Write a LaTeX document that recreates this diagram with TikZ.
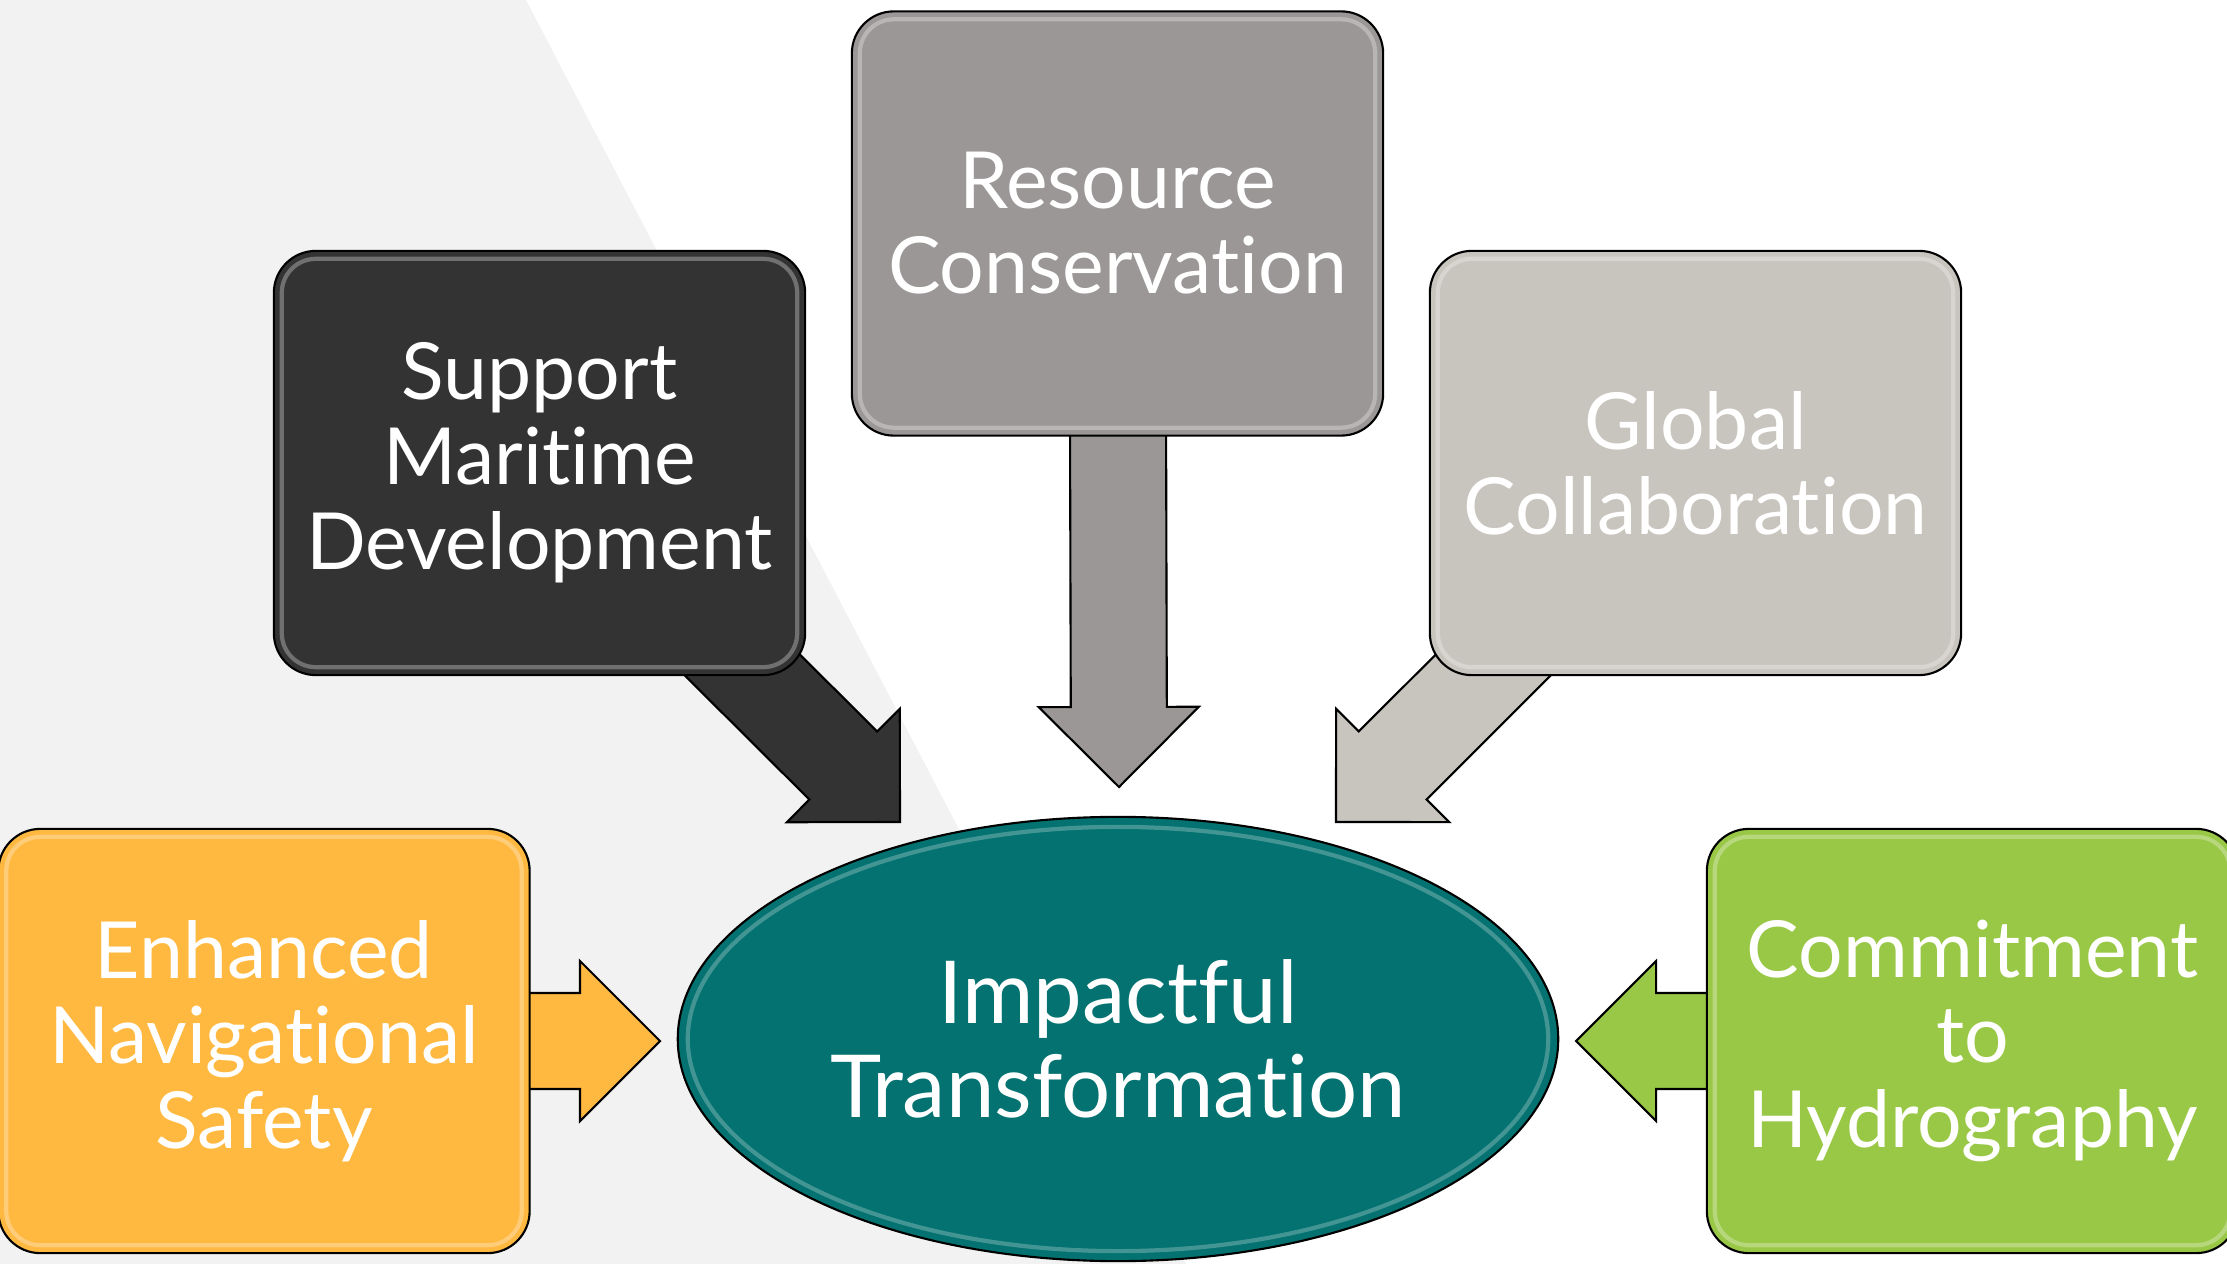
\documentclass[tikz,border=0pt]{standalone}
\usepackage{fontspec}
\setmainfont[Ligatures=NoCommon]{Lato}
\usetikzlibrary{calc,shapes.geometric}

\definecolor{bggray}{RGB}{242,242,242}
\definecolor{supcol}{RGB}{51,51,51}
\definecolor{rescol}{RGB}{154,151,150}
\definecolor{globcol}{RGB}{200,196,190}
\definecolor{enhcol}{RGB}{255,184,64}
\definecolor{comcol}{RGB}{153,199,70}
\definecolor{impcol}{RGB}{3,114,112}

\tikzset{
  box/.style={draw=black,line width=0.6pt,rounded corners=0.42cm,
    minimum width=5.31cm,minimum height=4.24cm,inner sep=0pt,
    text=white,align=center,font=\fontsize{22.4}{24.2}\selectfont},
  core/.style={draw=black,line width=0.6pt,ellipse,
    minimum width=8.8cm,minimum height=4.44cm,inner sep=0pt,
    text=white,align=center,font=\fontsize{24.7}{26.8}\selectfont},
  pfeilrand/.style={draw=black,line width=0.6pt,line join=miter},
  gloss/.style={draw=white,draw opacity=0.3,line width=1.2pt,rounded corners=0.34cm}
}

\begin{document}
\begin{tikzpicture}[x=0.01cm,y=-0.01cm]
\useasboundingbox (0,0) rectangle (2227,1264);
\fill[bggray] (0,0)--(526,0)--(1186,1264)--(0,1264)--cycle;

% block arrow: #1 colour, #2 start, #3 tip
\def\pfeil#1#2#3{
  \coordinate (H) at ($(#3)!0.8cm!(#2)$);
  \filldraw[pfeilrand,fill=#1] (#3)
    -- ($(H)!0.8cm!90:(#3)$) -- ($(H)!0.48cm!90:(#3)$)
    -- ($(#2)!0.48cm!90:(#3)$) -- ($(#2)!0.48cm!-90:(#3)$)
    -- ($(H)!0.48cm!-90:(#3)$) -- ($(H)!0.8cm!-90:(#3)$) -- cycle;
}
\def\glanz#1{
  \draw[gloss] ($(#1.north west)+(9,9)$) rectangle ($(#1.south east)+(-9,-9)$);
}

\coordinate (supTip) at (900,822);
\coordinate (resTip) at (1119,787);
\coordinate (globTip) at (1336,822);
\coordinate (enhTip) at (660,1041);
\coordinate (comTip) at (1576,1041);

\coordinate (supC) at (539.5,463);
\coordinate (resC) at (1117.5,223.5);
\coordinate (globC) at (1695.5,463);
\coordinate (enhC) at (264,1041);
\coordinate (comC) at (1972.5,1041);

\pfeil{supcol}{supC}{supTip}
\pfeil{rescol}{resC}{resTip}
\pfeil{globcol}{globC}{globTip}
\pfeil{enhcol}{enhC}{enhTip}
\pfeil{comcol}{comC}{comTip}

\node[box,fill=supcol] (sup) at (supC) {Support\\Maritime\\Development};
\node[box,fill=rescol] (res) at (resC) {Resource\\Conservation};
\node[box,fill=globcol] (glob) at (globC) {Global\\Collaboration};
\node[box,fill=enhcol] (enh) at (enhC) {Enhanced\\Navigational\\Safety};
\node[box,fill=comcol] (com) at (comC) {Commitment\\to\\Hydrography};

\glanz{sup}
\glanz{res}
\glanz{glob}
\glanz{enh}
\glanz{com}

\node[core,fill=impcol] (imp) at (1118,1039) {Impactful\\Transformation};
\draw[white,draw opacity=0.25,line width=1.2pt] (imp.center) ellipse[x radius=4.3cm,y radius=2.12cm];

\end{tikzpicture}
\end{document}
